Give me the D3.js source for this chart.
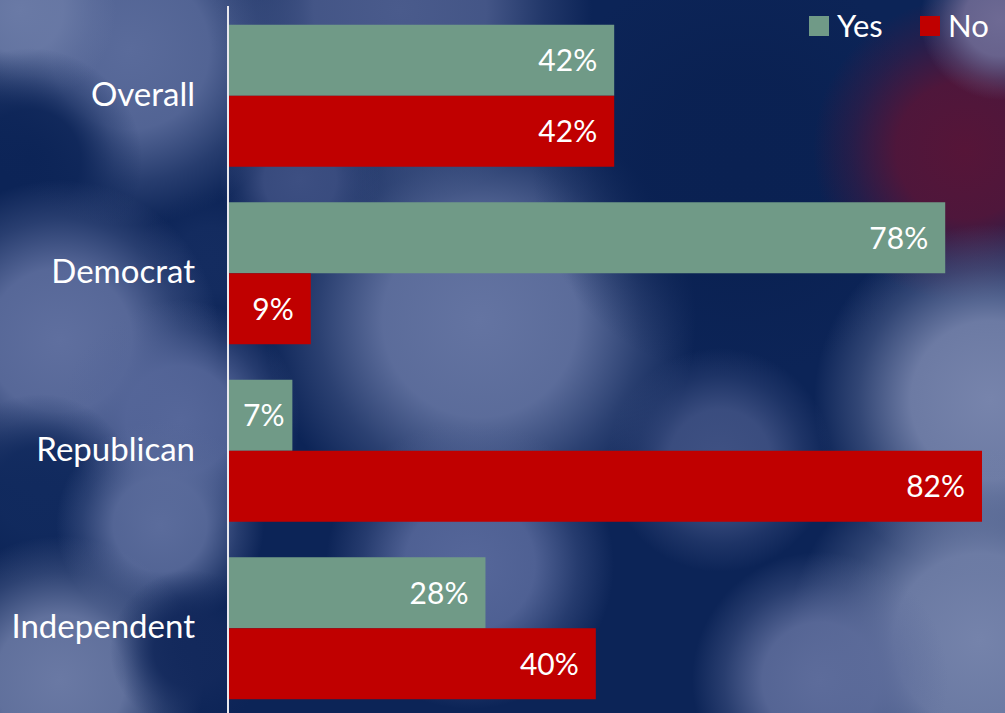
<!DOCTYPE html>
<html>
<head>
<meta charset="utf-8">
<script src="https://cdn.jsdelivr.net/npm/d3@7"></script>
<style>
  html, body { margin: 0; padding: 0; background: #0d2556; }
  svg { display: block; }
  text { font-family: Lato, "Open Sans", sans-serif; fill: #fff; }
</style>
</head>
<body>
<div id="container"></div>
<script>
// chart data
const categories = ["Overall", "Democrat", "Republican", "Independent"];
const yesValues = [42, 78, 7, 28];
const noValues = [42, 9, 82, 40];
const seriesNames = ["Yes", "No"];
const seriesColors = ["#709a87", "#c00000"];

const w = 1005;
const h = 713;
const axisX = 228;

const svg = d3.select("#container").
append("svg").
attr("width", w).
attr("height", h);

svg.append("rect").attr("width", w).attr("height", h).attr("fill", "#0c2457");

// [cx, cy, r, colour] soft blobs for the blurry backdrop
const blobs = [
[130, 50, 110, "#5a6b9b"],
[20, 10, 60, "#6a7aa6"],
[30, 160, 70, "#0c2457"],
[210, 260, 45, "#142c60"],
[60, 340, 100, "#5f6f9f"],
[180, 420, 75, "#56679a"],
[40, 490, 60, "#112a5e"],
[160, 525, 65, "#5b6c9c"],
[60, 680, 90, "#6a79a4"],
[190, 650, 50, "#13295c"],
[400, 10, 120, "#4a5b8c"],
[480, 320, 135, "#6474a2"],
[470, 565, 90, "#56679a"],
[300, 180, 50, "#3d4f82"],
[740, 170, 130, "#0a2152"],
[965, 150, 95, "#561538"],
[1000, 20, 50, "#6e6a94"],
[990, 400, 110, "#7784ac"],
[980, 640, 120, "#7583ab"],
[820, 680, 80, "#5d6c9b"],
[720, 460, 70, "#3f5183"]];

const defs = svg.append("defs");
const grads = defs.selectAll("radialGradient").
data(blobs).
join("radialGradient").
attr("id", (d, i) => "blob" + i);
grads.append("stop").attr("offset", "0%").attr("stop-color", d => d[3]).attr("stop-opacity", 1);
grads.append("stop").attr("offset", "45%").attr("stop-color", d => d[3]).attr("stop-opacity", 0.9);
grads.append("stop").attr("offset", "75%").attr("stop-color", d => d[3]).attr("stop-opacity", 0.35);
grads.append("stop").attr("offset", "100%").attr("stop-color", d => d[3]).attr("stop-opacity", 0);

svg.append("g").
selectAll("circle").
data(blobs).
join("circle").
attr("cx", d => d[0]).
attr("cy", d => d[1]).
attr("r", d => d[2] * 1.6).
attr("fill", (d, i) => `url(#blob${i})`);

// scales
const yScale = d3.scaleBand().
domain(categories).
range([7, 717]).
paddingInner(0.2).
paddingOuter(0.1);

const xScale = d3.scaleLinear().
domain([0, 82]).
range([axisX, 982]);

const sub = d3.scaleBand().
domain(seriesNames).
range([0, yScale.bandwidth()]);

const rows = categories.map((c, i) => ({ cat: c, vals: [yesValues[i], noValues[i]] }));

const groups = svg.selectAll("g.group").
data(rows).
join("g").
attr("class", "group").
attr("transform", d => `translate(0, ${yScale(d.cat)})`);

groups.selectAll("rect").
data(d => d.vals.map((v, j) => ({ v, s: seriesNames[j], c: seriesColors[j] }))).
join("rect").
attr("x", xScale(0)).
attr("y", d => sub(d.s)).
attr("width", d => xScale(d.v) - xScale(0)).
attr("height", sub.bandwidth()).
attr("fill", d => d.c);

groups.selectAll("text.val").
data(d => d.vals.map((v, j) => ({ v, s: seriesNames[j] }))).
join("text").
attr("class", "val").
attr("y", d => sub(d.s) + sub.bandwidth() / 2).
attr("dy", "0.36em").
attr("text-anchor", "end").
style("font-size", "30px").
text(d => d.v + "%").
attr("x", function (d) {
  const tw = this.getComputedTextLength();
  return Math.max(xScale(d.v) - 17, xScale(0) + 15 + tw);
});

// category labels
const yAxis = d3.axisLeft(yScale).tickSize(0).tickPadding(33);
const ay = svg.append("g").
attr("transform", `translate(${axisX}, 0)`).
call(yAxis);
ay.select(".domain").remove();
ay.selectAll("text").
style("font-size", "33px").
style("font-family", "Lato, 'Open Sans', sans-serif").
attr("fill", "#fff").
attr("dy", "0.3em");

// axis line
svg.append("line").
attr("x1", axisX).attr("x2", axisX).
attr("y1", 6).attr("y2", h).
attr("stroke", "#e8e8ee").
attr("stroke-width", 2);

// legend
const legend = svg.append("g").attr("transform", "translate(809, 16)");
const legX = [0, 111];
seriesNames.forEach((s, i) => {
  legend.append("rect").
  attr("x", legX[i]).attr("y", 0).
  attr("width", 20).attr("height", 20).
  attr("fill", seriesColors[i]);
  legend.append("text").
  attr("x", legX[i] + 28).
  attr("y", 10).
  attr("dy", "0.34em").
  style("font-size", "31px").
  text(s);
});
</script>
</body>
</html>
